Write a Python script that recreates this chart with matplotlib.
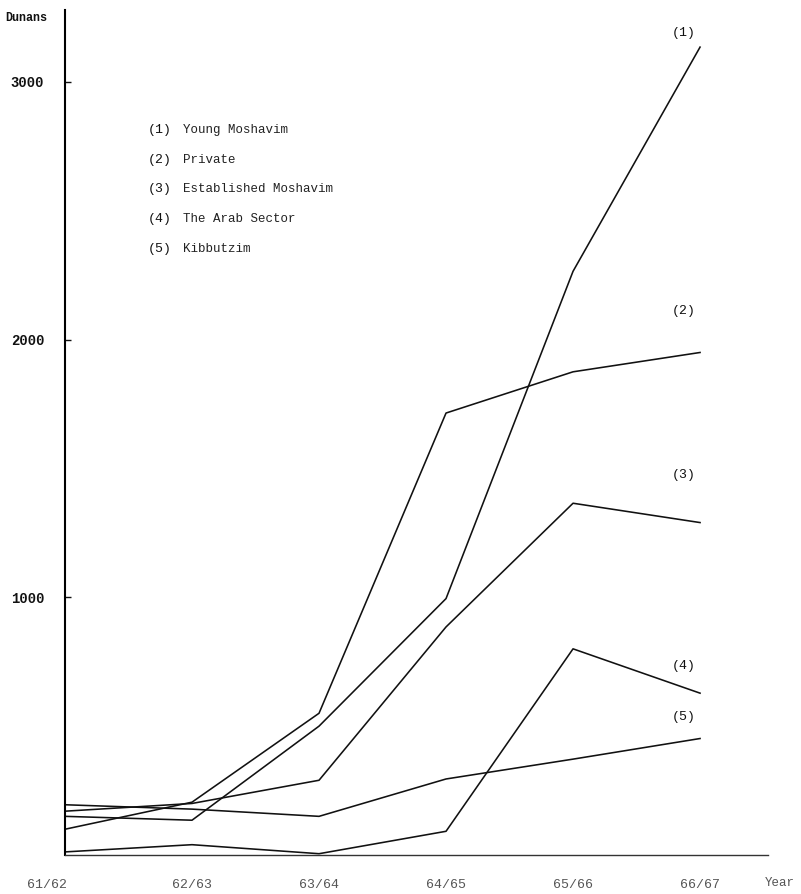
import numpy as np
import matplotlib
matplotlib.use("Agg")
import matplotlib.pyplot as plt
import matplotlib.transforms as mtransforms

plt.rcParams.update({"font.family": "Liberation Mono", "font.size": 9})

# ---- data (dunans) ----
years = ["61/62", "62/63", "63/64", "64/65", "65/66", "66/67"]
young_moshavim = [150, 135, 500, 995, 2265, 3135]
private = [100, 205, 550, 1715, 1875, 1950]
established_moshavim = [170, 200, 290, 885, 1365, 1290]
arab_sector = [12, 40, 5, 92, 800, 628]
kibbutzim = [195, 178, 150, 295, 372, 452]

series = [young_moshavim, private, established_moshavim, arab_sector, kibbutzim]
names = ["Young Moshavim", "Private", "Established Moshavim", "The Arab Sector", "Kibbutzim"]
yticks = [1000, 2000, 3000]

W, H = 801, 894
fig = plt.figure(figsize=(W / 100, H / 100), dpi=100)
ax = fig.add_axes([65 / W, (H - 855) / H, 703 / W, 845 / H])

x = np.arange(len(years))
for vals in series:
    ax.plot(x, vals, color="#111111", lw=1.15)

ax.set_xlim(0, 5.535)
ax.set_ylim(0, 3279)
for s in ("top", "right"):
    ax.spines[s].set_visible(False)
ax.spines["left"].set_linewidth(1.5)
ax.spines["bottom"].set_linewidth(1.0)
ax.spines["bottom"].set_color("#333333")

ax.set_yticks(yticks)
ax.set_yticklabels([str(v) for v in yticks], fontsize=10, fontweight="bold")
ax.tick_params(axis="y", direction="in", length=4, width=1, pad=15, colors="#111111")
ax.set_xticks(x)
ax.set_xticklabels(years, fontsize=9.5, color="#555555")
ax.tick_params(axis="x", length=0, pad=17)
# first year label sits left of the axis in the original
first = ax.get_xticklabels()[0]
first.set_transform(first.get_transform() + mtransforms.ScaledTranslation(-0.18, 0, fig.dpi_scale_trans))

# numbered labels at the line ends
lab_y = [3190, 2111, 1475, 733, 535]
for i, yy in enumerate(lab_y):
    ax.text(4.87, yy, f"({i + 1})", ha="center", va="center", fontsize=9.5, color="#111111")

# key block
for i, nm in enumerate(names):
    yy = 1 - (130 + i * 29.7) / H
    fig.text(148 / W, yy, f"({i + 1})", ha="left", va="center", fontsize=9.5, color="#111111")
    fig.text(183 / W, yy, nm, ha="left", va="center", fontsize=9, color="#222222")

fig.text(5 / W, 1 - 18 / H, "Dunans", ha="left", va="center", fontsize=8.5, fontweight="bold", color="#111111")
fig.text(780 / W, 1 - 883 / H, "Year", ha="center", va="center", fontsize=9, color="#555555")

fig.savefig("out.png", dpi=100)
